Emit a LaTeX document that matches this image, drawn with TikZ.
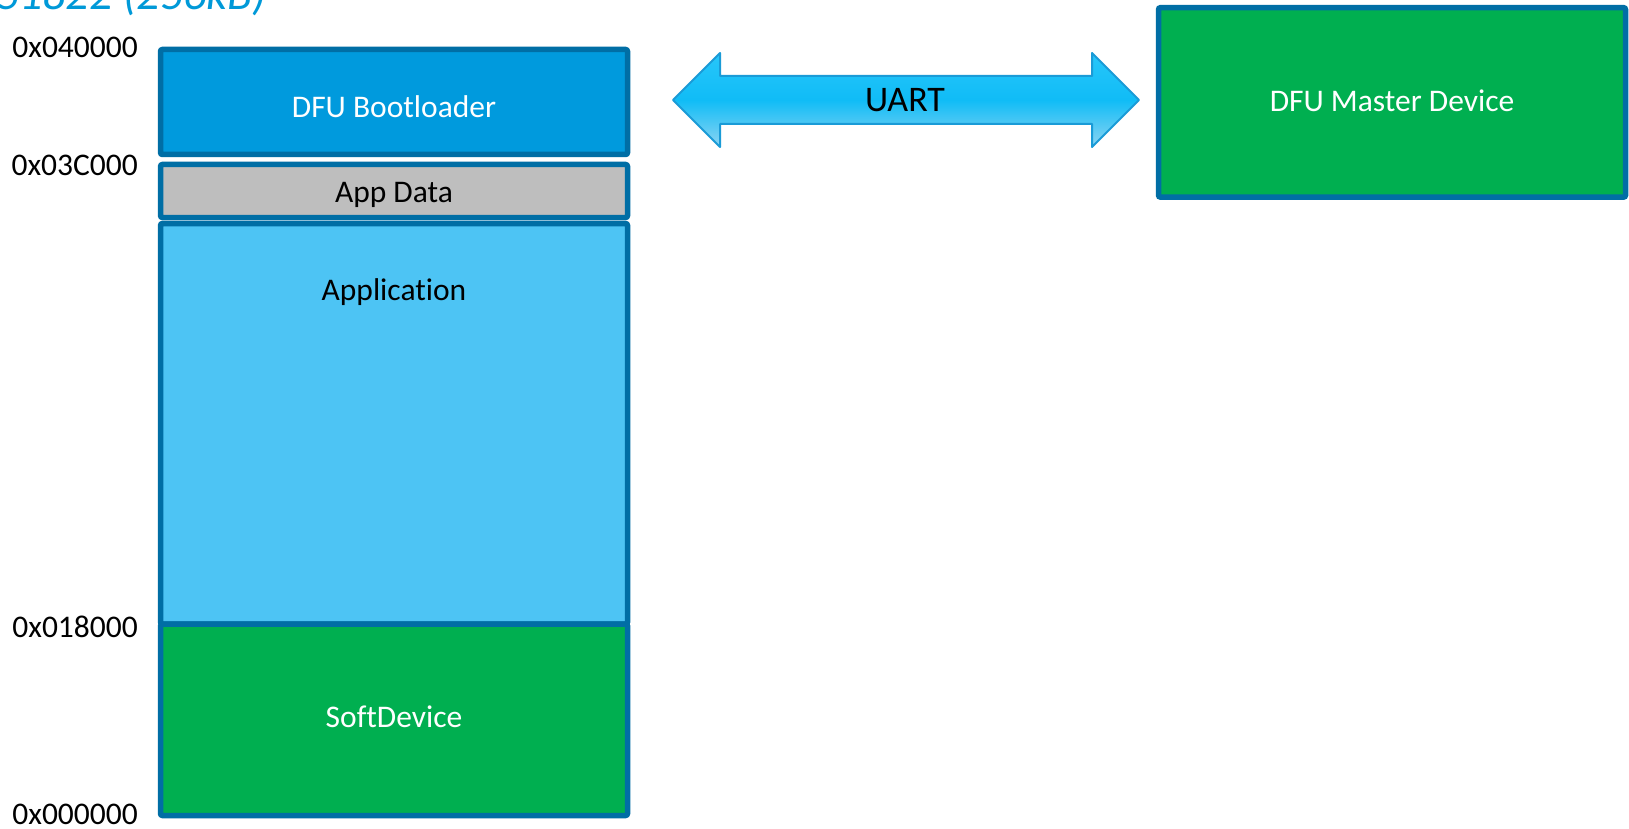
\documentclass[tikz,border=0pt]{standalone}
\usepackage{fontspec}
\setmainfont{Carlito}[Ligatures=NoCommon]
\begin{document}
\begin{tikzpicture}[x=1pt,y=-1pt]
\definecolor{bordc}{RGB}{0,110,165}
\definecolor{bootc}{RGB}{0,154,221}
\definecolor{datac}{RGB}{190,190,190}
\definecolor{appc}{RGB}{77,196,244}
\definecolor{greenc}{RGB}{0,175,80}
\definecolor{titlec}{RGB}{0,153,216}
\definecolor{arrbord}{RGB}{26,155,215}
\definecolor{arrtop}{RGB}{40,198,250}
\definecolor{arrmid}{RGB}{16,188,246}
\definecolor{arrbot}{RGB}{140,212,242}
\tikzset{
  block/.style={draw=bordc, line width=5.5pt, rounded corners=2pt, inner sep=0pt},
  addr/.style={font=\fontsize{31.5}{36}\selectfont, inner sep=0pt, anchor=base east, text=black},
  btxt/.style={font=\fontsize{31.5}{36}\selectfont, inner sep=0pt, anchor=base},
}
\useasboundingbox (0,0) rectangle (1629,829);
\fill[white] (0,0) rectangle (1629,829);
% title (cut off at top)
\node[inner sep=0pt, anchor=base east, text=titlec, font=\fontsize{46}{52}\selectfont\itshape] (title) at (267,10) {nRF51822 (256kB)};
% memory blocks
\node[block, fill=bootc, minimum width=467pt, minimum height=105pt] (boot) at (394,102) {};
\node[block, fill=datac, minimum width=467pt, minimum height=53pt] (data) at (394,191) {};
\node[block, fill=appc, minimum width=467pt, minimum height=400.5pt] (app) at (394,423.75) {};
\node[block, fill=greenc, minimum width=467pt, minimum height=191.5pt] (soft) at (394,719.75) {};
\node[block, fill=greenc, minimum width=467pt, minimum height=189.5pt] (master) at (1392,102.4) {};
% texts
\node[btxt, text=white] (bootT) at (394,118) {DFU Bootloader};
\node[btxt, text=black] (dataT) at (394,203) {App Data};
\node[btxt, text=black] (appT) at (394,300) {Application};
\node[btxt, text=white] (softT) at (394,727) {SoftDevice};
\node[btxt, text=white] (masterT) at (1392,112) {DFU Master Device};
% addresses
\node[addr] (a4) at (138,58) {0x040000};
\node[addr] (a3) at (138,176) {0x03C000};
\node[addr] (a1) at (138,637) {0x018000};
\node[addr] (a0) at (138,824) {0x000000};
% UART double arrow
\path[draw=arrbord, line width=2pt, line join=round, top color=arrtop, bottom color=arrbot, middle color=arrmid]
  (673,100) -- (720,53) -- (720,76) -- (1092,76) -- (1092,53) -- (1139,100)
  -- (1092,147) -- (1092,124) -- (720,124) -- (720,147) -- cycle;
\node[inner sep=0pt, anchor=base, font=\fontsize{36}{40}\selectfont] (uart) at (905,112) {UART};
\end{tikzpicture}
\end{document}
